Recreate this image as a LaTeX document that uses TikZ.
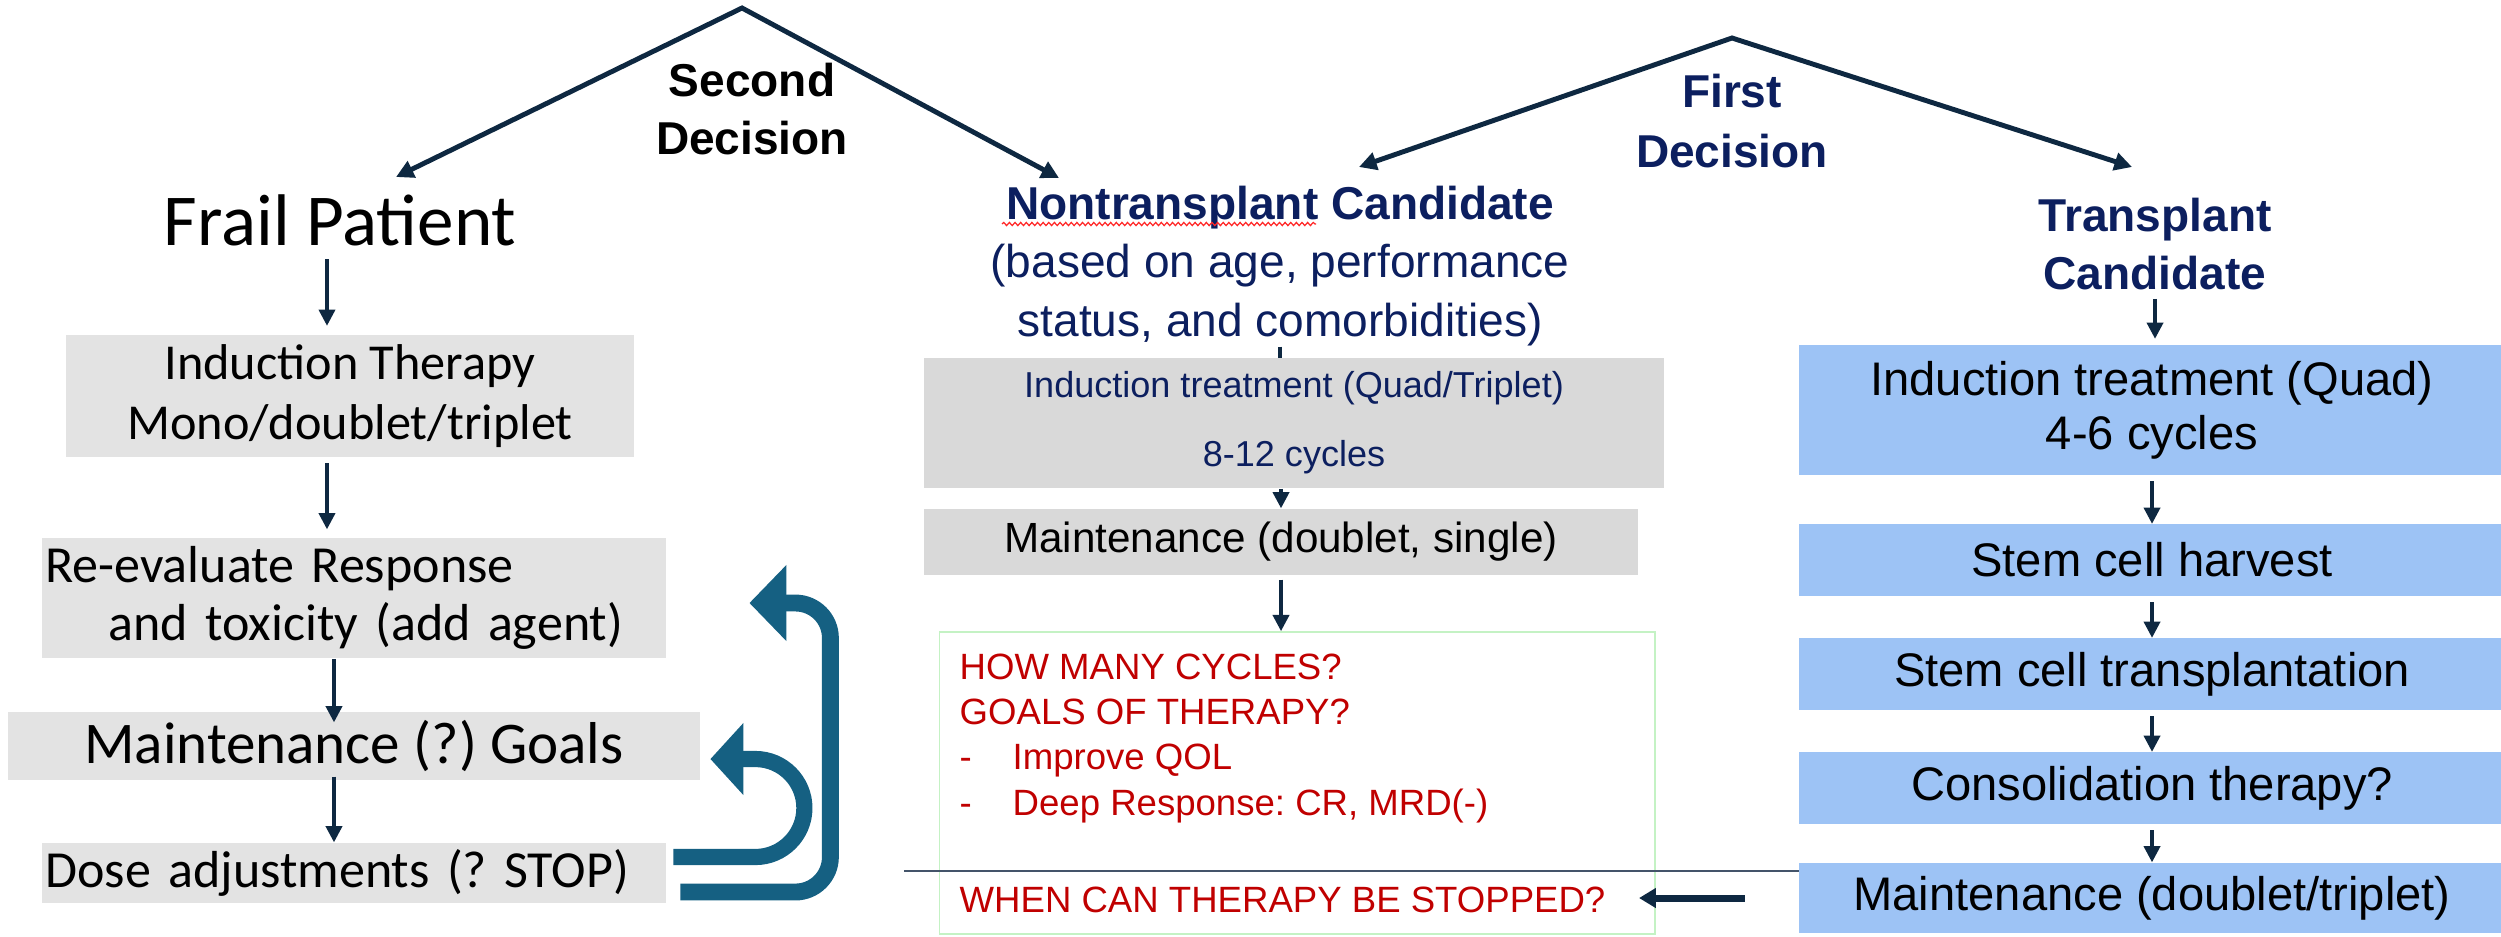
\documentclass[tikz,border=0pt]{standalone}
\usepackage{fontspec}
\setmainfont{Liberation Sans}
\newfontfamily\aptos{Carlito}
\usetikzlibrary{arrows.meta,decorations.pathmorphing}
\frenchspacing

\definecolor{grayL}{HTML}{E3E3E3}
\definecolor{grayM}{HTML}{D9D9D9}
\definecolor{boxblue}{HTML}{9DC3F5}
\definecolor{navyline}{HTML}{0E2841}
\definecolor{navytxt}{HTML}{0C1F5F}
\definecolor{tealarrow}{HTML}{156082}
\definecolor{redtxt}{HTML}{C00000}
\definecolor{greenedge}{HTML}{C4F2C4}
\definecolor{sepgray}{HTML}{44546A}

\begin{document}
\begin{tikzpicture}[x=0.01cm,y=-0.01cm,
  lbox/.style={fill=grayL,inner sep=0pt,font=\aptos\fontsize{14.8pt}{16.5pt}\selectfont},
  mbox/.style={fill=grayM,inner sep=0pt},
  bbox/.style={fill=boxblue,inner sep=0pt,minimum width=7.05cm,minimum height=0.71cm,font=\fontsize{13.4pt}{15.4pt}\selectfont},
  flow/.style={draw=navyline,line width=0.95pt,-{Triangle[length=4.6pt,width=4.6pt]}},
  decide/.style={draw=navyline,line width=1.4pt,line join=miter,{Triangle[length=5pt,width=5pt]}-{Triangle[length=5pt,width=5pt]}},
  loopback/.style={draw=tealarrow,line width=4.8pt}]
\useasboundingbox (0,0) rectangle (2501,936);

% decisions
\coordinate (apexB) at (742,8);
\coordinate (tipF) at (396,177);
\coordinate (tipN) at (1059,178);
\coordinate (apexA) at (1732,38);
\coordinate (tipC) at (1359,167);
\coordinate (tipT) at (2132,167);
\draw[decide] (tipF) -- (apexB) -- (tipN);
\draw[decide] (tipC) -- (apexA) -- (tipT);
\node[inner sep=0pt,align=center,font=\bfseries\fontsize{13.1pt}{16.6pt}\selectfont] (second) at (752,109) {Second\\Decision};
\node[inner sep=0pt,align=center,text=navytxt,font=\bfseries\fontsize{13.1pt}{16.8pt}\selectfont] (first) at (1732,121) {First\\Decision};

% frail patient
\node[inner sep=0pt,anchor=base,font=\aptos\fontsize{20.8pt}{25pt}\selectfont] (frail) at (340,245) {Frail Patient};
\node[lbox,minimum width=5.67cm,minimum height=1.21cm,align=center,font=\aptos\fontsize{14.3pt}{17pt}\selectfont] (indl) at (350,396) {Induction Therapy\\Mono/doublet/triplet};
\node[lbox,minimum width=6.23cm,minimum height=1.2cm,text width=6.17cm,align=left] (reval) at (354,598) {Re-evaluate Response\\\hspace*{0.63cm}and toxicity (add agent)};
\node[lbox,minimum width=6.91cm,minimum height=0.68cm,font=\aptos\fontsize{16.8pt}{20pt}\selectfont] (maintl) at (354,746) {Maintenance (?) Goals};
\node[lbox,minimum width=6.23cm,minimum height=0.6cm,text width=6.17cm,align=left] (dose) at (354,873) {Dose adjustments (? STOP)};

\draw[flow,shorten <=0.13cm,shorten >=0.09cm] ([xshift=-0.13cm]frail.south) -- ([xshift=-0.13cm]frail.south |- indl.north);
\draw[flow,shorten <=0.06cm,shorten >=0.08cm] ([xshift=-0.23cm]indl.south) -- ([xshift=-0.23cm]indl.south |- reval.north);
\draw[flow,shorten >=-0.11cm] ([xshift=-0.2cm]reval.south) -- ([xshift=-0.2cm]reval.south |- maintl.north);
\draw[flow,shorten <=-0.04cm] ([xshift=-0.2cm]maintl.south) -- ([xshift=-0.2cm]maintl.south |- dose.north);

\draw[loopback,rounded corners=0.35cm,-{Triangle[length=10.5pt,width=21pt]}] ([xshift=0.14cm,yshift=-0.19cm]dose.east) -- ++(150,0) |- ([xshift=0.83cm,yshift=-0.05cm]reval.east);
\draw[loopback,line width=4.6pt,rounded corners=0.49cm,-{Triangle[length=9.4pt,width=20pt]}] ([xshift=0.07cm,yshift=0.16cm]dose.east) -- ++(131,0) |- ([xshift=0.10cm,yshift=-0.13cm]maintl.east);

% nontransplant
\node[inner sep=0pt,align=center,text=navytxt,font=\fontsize{13.1pt}{16.6pt}\selectfont] (nontx) at (1280,266) {\textbf{Nontransplant Candidate}\\(based on age, performance\\status, and comorbidities)};
\draw[red!85!white,line width=0.35pt,decorate,decoration={snake,amplitude=0.45pt,segment length=1.6pt}] (1002,224) -- (1316,224);
\draw[draw=navyline,line width=0.95pt] (nontx.south) -- (nontx.south |- 0,358);
\node[mbox,minimum width=7.39cm,minimum height=1.3cm,align=center,text=navytxt,font=\fontsize{10.25pt}{19.6pt}\selectfont] (indnt) at (1294,423) {Induction treatment (Quad/Triplet)\\8-12 cycles};
\node[mbox,minimum width=7.13cm,minimum height=0.66cm,font=\fontsize{12pt}{14pt}\selectfont] (maintm) at (1281,542) {Maintenance (doublet, single)};
\node[draw=greenedge,line width=0.45pt,minimum width=7.15cm,minimum height=3.02cm,inner sep=0pt] (qbox) at (1297,783) {};
\node[text=redtxt,anchor=north west,inner sep=0pt,align=left,font=\fontsize{10.4pt}{12.9pt}\selectfont] (goals) at (959,653) {HOW MANY CYCLES?\\GOALS OF THERAPY?\\\makebox[0.53cm][l]{-}Improve QOL\\\makebox[0.53cm][l]{-}Deep Response: CR, MRD(-)};
\node[text=redtxt,anchor=base west,inner sep=0pt,font=\fontsize{10.4pt}{12pt}\selectfont] (whenstop) at (959,912) {WHEN CAN THERAPY BE STOPPED?};

\draw[flow] (maintm.north |- indnt.south) -- (maintm.north);
\draw[flow,shorten <=0.04cm] (maintm.south) -- (maintm.south |- qbox.north);

% transplant
\node[inner sep=0pt,align=center,text=navytxt,font=\bfseries\fontsize{13.1pt}{16.6pt}\selectfont] (trans) at (2155,244) {Transplant\\Candidate};
\node[bbox,minimum height=1.29cm,align=center] (indr) at (2152,410) {Induction treatment (Quad)\\4-6 cycles};
\node[bbox] (harvest) at (2152,560) {Stem cell harvest};
\node[bbox] (sct) at (2152,674) {Stem cell transplantation};
\node[bbox] (consol) at (2152,788) {Consolidation therapy?};
\node[bbox,minimum height=0.70cm] (maintr) at (2152,898) {Maintenance (doublet/triplet)};

\draw[flow,shorten <=0.08cm,shorten >=0.06cm] (trans.south) -- (trans.south |- indr.north);
\foreach \a/\b in {indr/harvest,harvest/sct,sct/consol,consol/maintr}
  \draw[flow,shorten <=0.06cm] (\a.south) -- (\b.north);

\coordinate (sepL) at (904,871);
\draw[sepgray,line width=0.45pt] (sepL) -- (sepL -| maintr.west);
\draw[draw=navyline,line width=2pt,-{Triangle[length=4.8pt,width=5.4pt]}] ([xshift=-0.54cm]maintr.west) -- ([xshift=0.33cm]whenstop.east |- maintr.west);

\end{tikzpicture}
\end{document}
